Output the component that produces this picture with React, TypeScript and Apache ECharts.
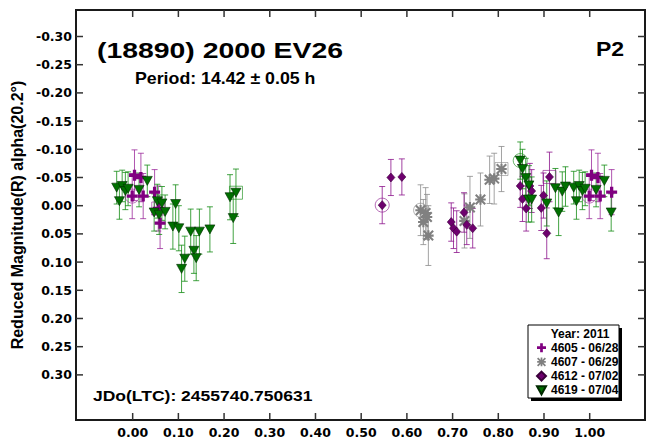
import React, { useEffect, useRef } from "react";
import * as echarts from "echarts";

// ---- axis ranges and ticks ----
const X_MIN = -0.124;
const X_MAX = 1.121;
const Y_MIN = -0.347;
const Y_MAX = 0.38;
const xTickValues = [0, 0.1, 0.2, 0.3, 0.4, 0.5, 0.6, 0.7, 0.8, 0.9, 1.0];
const yTickValues = [-0.3, -0.25, -0.2, -0.15, -0.1, -0.05, 0, 0.05, 0.1, 0.15, 0.2, 0.25, 0.3];

// ---- session names ----
const sessionNames = ["4605 - 06/28", "4607 - 06/29", "4612 - 07/02", "4619 - 07/04"];

// ---- 4605 (purple plus) ----
const phase4605 = [0.004, 0.018, 0.023, 0.048, 0.056, 0.060, 0.999];
const mag4605 = [-0.054, -0.050, -0.017, -0.024, 0.005, 0.031, -0.017];
const err4605 = [0.045, 0.043, 0.040, 0.040, 0.040, 0.045, 0.040];

// ---- 4607 (gray asterisk) ----
const phase4607 = [0.630, 0.636, 0.641, 0.644, 0.647, 0.726, 0.738, 0.761, 0.781, 0.791, 0.807];
const mag4607 = [0.008, 0.029, 0.013, 0.020, 0.053, 0.027, 0.003, -0.011, -0.046, -0.048, -0.065];
const err4607 = [0.045, 0.040, 0.045, 0.040, 0.053, 0.048, 0.055, 0.047, 0.042, 0.045, 0.040];

// ---- 4612 (purple diamond) ----
const phase4612 = [0.546, 0.565, 0.589, 0.697, 0.702, 0.709, 0.725, 0.731, 0.744, 0.848, 0.853, 0.861, 0.869, 0.873, 0.894, 0.899, 0.906, 0.912];
const mag4612 = [-0.001, -0.050, -0.051, 0.029, 0.040, 0.046, 0.012, 0.034, 0.040, -0.035, -0.012, 0.005, -0.035, -0.026, 0.004, -0.018, 0.049, -0.051];
const err4612 = [0.033, 0.032, 0.032, 0.034, 0.036, 0.037, 0.035, 0.035, 0.035, 0.038, 0.040, 0.040, 0.040, 0.038, 0.040, 0.040, 0.045, 0.044];

// ---- 4619 (green triangle) ----
const phase4619 = [0.014, 0.032, 0.047, 0.054, 0.058, 0.064, 0.071, 0.088, 0.094, 0.101, 0.107, 0.114, 0.127, 0.134, 0.139, 0.146, 0.169, 0.213, 0.220, 0.226,
  0.848, 0.853, 0.860, 0.867, 0.866, 0.873, 0.906, 0.925, 0.932, 0.940, 0.947, 0.965, 0.971, 0.977, 0.984, 0.990];
const mag4619 = [-0.028, -0.044, 0.012, -0.008, 0.016, -0.004, 0.011, 0.037, -0.003, 0.040, 0.112, 0.094, 0.046, 0.080, 0.093, 0.046, 0.042, -0.015, 0.022, -0.023,
  -0.080, -0.065, -0.049, -0.036, -0.011, -0.011, -0.004, -0.031, 0.012, -0.025, -0.034, -0.032, -0.008, -0.035, -0.026, -0.030];
const err4619 = [0.030, 0.028, 0.033, 0.030, 0.035, 0.030, 0.030, 0.040, 0.034, 0.040, 0.042, 0.040, 0.040, 0.040, 0.040, 0.040, 0.040, 0.040, 0.045, 0.042,
  0.033, 0.035, 0.035, 0.035, 0.040, 0.040, 0.040, 0.035, 0.041, 0.035, 0.035, 0.029, 0.032, 0.028, 0.033, 0.030];

// ---- first / last point markers [phase, mag] ----
const firstPoints = [[0.999, -0.017], [0.630, 0.008], [0.546, -0.001], [0.848, -0.080]];
const lastPoints = [[0.056, 0.005], [0.807, -0.065], [0.912, -0.051], [0.226, -0.023]];

const WRAP_MIN = -0.05;
const WRAP_MAX = 1.05;

const seriesColors = ["#800080", "#808080", "#6e006e", "#007000"];
const barColors = ["rgba(150,30,150,0.75)", "rgba(140,140,140,0.8)", "rgba(140,20,140,0.8)", "rgba(20,140,20,0.8)"];

const PLUS = "path://M3.5,0H6.5V3.5H10V6.5H6.5V10H3.5V6.5H0V3.5H3.5Z";
const ASTER =
  "path://M0,4H10V6H0Z M4,0H6V10H4Z M1.21,-0.21L10.21,8.79L8.79,10.21L-0.21,1.21Z M10.21,1.21L1.21,10.21L-0.21,8.79L8.79,-0.21Z";
const TRI = "path://M0,0L10,0L5,9Z";

const TICK_LEN = 7;

function wrapPoints(phase: number[], mag: number[], err: number[]) {
  const out: number[][] = [];
  phase.forEach((p, i) => {
    [p - 1, p, p + 1].forEach((q) => {
      if (q >= WRAP_MIN && q <= WRAP_MAX) out.push([q, mag[i], err[i]]);
    });
  });
  return out;
}

function wrapMarks(pts: number[][]) {
  const out: number[][] = [];
  pts.forEach(([p, m]) => {
    [p - 1, p, p + 1].forEach((q) => {
      if (q >= WRAP_MIN && q <= WRAP_MAX) out.push([q, m]);
    });
  });
  return out;
}

export default function App() {
  const ref = useRef<HTMLDivElement>(null);
  useEffect(() => {
    if (!ref.current) return;
    const chart = echarts.init(ref.current, undefined, { renderer: "svg" });

    const sessions = [
      { data: wrapPoints(phase4605, mag4605, err4605), symbol: PLUS, size: 11, border: "#800080" },
      { data: wrapPoints(phase4607, mag4607, err4607), symbol: ASTER, size: 11, border: "#808080" },
      { data: wrapPoints(phase4612, mag4612, err4612), symbol: "diamond", size: [8, 9], border: "#3a003a" },
      { data: wrapPoints(phase4619, mag4619, err4619), symbol: TRI, size: [10, 9], border: "#002a00" },
    ];

    const errSeries = sessions.map((s, k) => ({
      type: "custom",
      name: "err" + k,
      silent: true,
      z: 2,
      encode: { x: 0, y: 1 },
      data: s.data,
      renderItem: (params: any, api: any) => {
        const x = api.value(0);
        const y = api.value(1);
        const e = api.value(2);
        const top = api.coord([x, y - e]);
        const bot = api.coord([x, y + e]);
        const hw = 3;
        const style = { stroke: barColors[k], lineWidth: 1 };
        return {
          type: "group",
          children: [
            { type: "line", shape: { x1: top[0], y1: top[1], x2: bot[0], y2: bot[1] }, style },
            { type: "line", shape: { x1: top[0] - hw, y1: top[1], x2: top[0] + hw, y2: top[1] }, style },
            { type: "line", shape: { x1: bot[0] - hw, y1: bot[1], x2: bot[0] + hw, y2: bot[1] }, style },
          ],
        };
      },
    }));

    const pointSeries = sessions.map((s, k) => ({
      type: "scatter",
      name: sessionNames[k],
      z: 4,
      symbol: s.symbol,
      symbolSize: s.size,
      data: s.data.map((d) => [d[0], d[1]]),
      itemStyle: { color: seriesColors[k], borderColor: s.border, borderWidth: k >= 2 ? 0.6 : 0, opacity: 1 },
    }));

    const firstSeries = [0, 1, 2, 3].map((k) => ({
      type: "scatter",
      name: "first" + k,
      z: 3,
      silent: true,
      symbol: "circle",
      symbolSize: 14,
      data: wrapMarks([firstPoints[k]]),
      itemStyle: { color: "rgba(0,0,0,0)", borderColor: barColors[k], borderWidth: 1 },
    }));
    const lastSeries = [0, 1, 2, 3].map((k) => ({
      type: "scatter",
      name: "last" + k,
      z: 3,
      silent: true,
      symbol: "rect",
      symbolSize: 13,
      data: wrapMarks([lastPoints[k]]),
      itemStyle: { color: "rgba(0,0,0,0)", borderColor: barColors[k], borderWidth: 1 },
    }));

    const labelFont = { fontFamily: "DejaVu Sans", fontWeight: "bold" as const, fontSize: 12.5, color: "#000" };
    const fmt = (v: number) => Number(v).toFixed(2);

    const baseGraphic: any[] = [
      { id: "lgShadow", type: "rect", z: 0, shape: { x: 531, y: 328, width: 91, height: 73 }, style: { fill: "#000" } },
      { id: "lgBox", type: "rect", z: 1, shape: { x: 528, y: 325, width: 91, height: 73 }, style: { fill: "#fff", stroke: "#000", lineWidth: 1 } },
      {
        id: "lgTitle", type: "text", z: 10, x: 580, y: 334,
        style: { text: "Year: 2011", font: 'bold 12px "Liberation Sans", Arial, sans-serif', fill: "#000", align: "center", verticalAlign: "middle" },
      },
      {
        id: "title", type: "text", z: 10, x: 97, y: 50, scaleX: 1.29,
        style: { text: "(18890) 2000 EV26", font: 'bold 22px "Liberation Sans", Arial, sans-serif', fill: "#000", align: "left", verticalAlign: "middle" },
      },
      {
        id: "period", type: "text", z: 10, x: 135, y: 78.5, scaleX: 1.11,
        style: { text: "Period: 14.42 ± 0.05 h", font: 'bold 16px "Liberation Sans", Arial, sans-serif', fill: "#000", align: "left", verticalAlign: "middle" },
      },
      {
        id: "p2", type: "text", z: 10, x: 596, y: 50, scaleX: 1.18,
        style: { text: "P2", font: 'bold 19.5px "Liberation Sans", Arial, sans-serif', fill: "#000", align: "left", verticalAlign: "middle" },
      },
      {
        id: "jdo", type: "text", z: 10, x: 93, y: 396, scaleX: 1.13,
        style: { text: "JDo(LTC): 2455740.750631", font: 'bold 15.5px "Liberation Sans", Arial, sans-serif', fill: "#000", align: "left", verticalAlign: "middle" },
      },
    ];

    chart.setOption({
      animation: false,
      backgroundColor: "#fff",
      grid: { left: 76, right: 2, top: 10, bottom: 21, show: true, borderColor: "#1a1a1a", borderWidth: 2 },
      xAxis: [
        {
          type: "value",
          min: X_MIN,
          max: X_MAX,
          position: "bottom",
          axisLine: { show: false, onZero: false },
          splitLine: { show: false },
          axisTick: { show: false },
          axisLabel: { ...labelFont, margin: 6, customValues: xTickValues, formatter: fmt },
        },
      ],
      yAxis: [
        {
          type: "value",
          inverse: true,
          min: Y_MIN,
          max: Y_MAX,
          position: "left",
          axisLine: { show: false, onZero: false },
          splitLine: { show: false },
          axisTick: { show: false },
          axisLabel: { ...labelFont, margin: 4, customValues: yTickValues, formatter: fmt },
          name: "Reduced Magnitude(R) alpha(20.2°)",
          nameLocation: "middle",
          nameRotate: 90,
          nameGap: 44,
          nameTextStyle: { fontFamily: "Liberation Sans", fontWeight: "bold", fontSize: 16, color: "#000" },
        },
      ],
      legend: {
        data: sessionNames,
        orient: "vertical",
        left: 528,
        top: 325,
        padding: [15.6, 4, 2, 8],
        itemWidth: 9,
        itemHeight: 9,
        itemGap: 0,
        selectedMode: false,
        z: 6,
        textStyle: { fontFamily: "Liberation Sans", fontWeight: "bold", fontSize: 12, color: "#000", lineHeight: 14.2 },
      },
      graphic: baseGraphic,
      series: [...errSeries, ...firstSeries, ...lastSeries, ...pointSeries],
    });

    // tick marks on all four sides, positioned through the axis scales
    const left = chart.convertToPixel({ xAxisIndex: 0 }, X_MIN) as number;
    const right = chart.convertToPixel({ xAxisIndex: 0 }, X_MAX) as number;
    const top = chart.convertToPixel({ yAxisIndex: 0 }, Y_MIN) as number;
    const bottom = chart.convertToPixel({ yAxisIndex: 0 }, Y_MAX) as number;
    const tickStyle = { stroke: "#333", lineWidth: 1.5 };
    const tickEls: any[] = [];
    xTickValues.forEach((v, i) => {
      const px = chart.convertToPixel({ xAxisIndex: 0 }, v) as number;
      tickEls.push({ id: "xtT" + i, type: "line", z: 20, shape: { x1: px, y1: top, x2: px, y2: top + TICK_LEN }, style: tickStyle });
      tickEls.push({ id: "xtB" + i, type: "line", z: 20, shape: { x1: px, y1: bottom - TICK_LEN, x2: px, y2: bottom }, style: tickStyle });
    });
    yTickValues.forEach((v, i) => {
      const py = chart.convertToPixel({ yAxisIndex: 0 }, v) as number;
      tickEls.push({ id: "ytL" + i, type: "line", z: 20, shape: { x1: left, y1: py, x2: left + TICK_LEN, y2: py }, style: tickStyle });
      tickEls.push({ id: "ytR" + i, type: "line", z: 20, shape: { x1: right - TICK_LEN, y1: py, x2: right, y2: py }, style: tickStyle });
    });
    chart.setOption({ graphic: [...baseGraphic, ...tickEls] });

    return () => chart.dispose();
  }, []);

  return <div ref={ref} style={{ position: "fixed", left: 0, top: 0, width: 647, height: 441 }} />;
}
